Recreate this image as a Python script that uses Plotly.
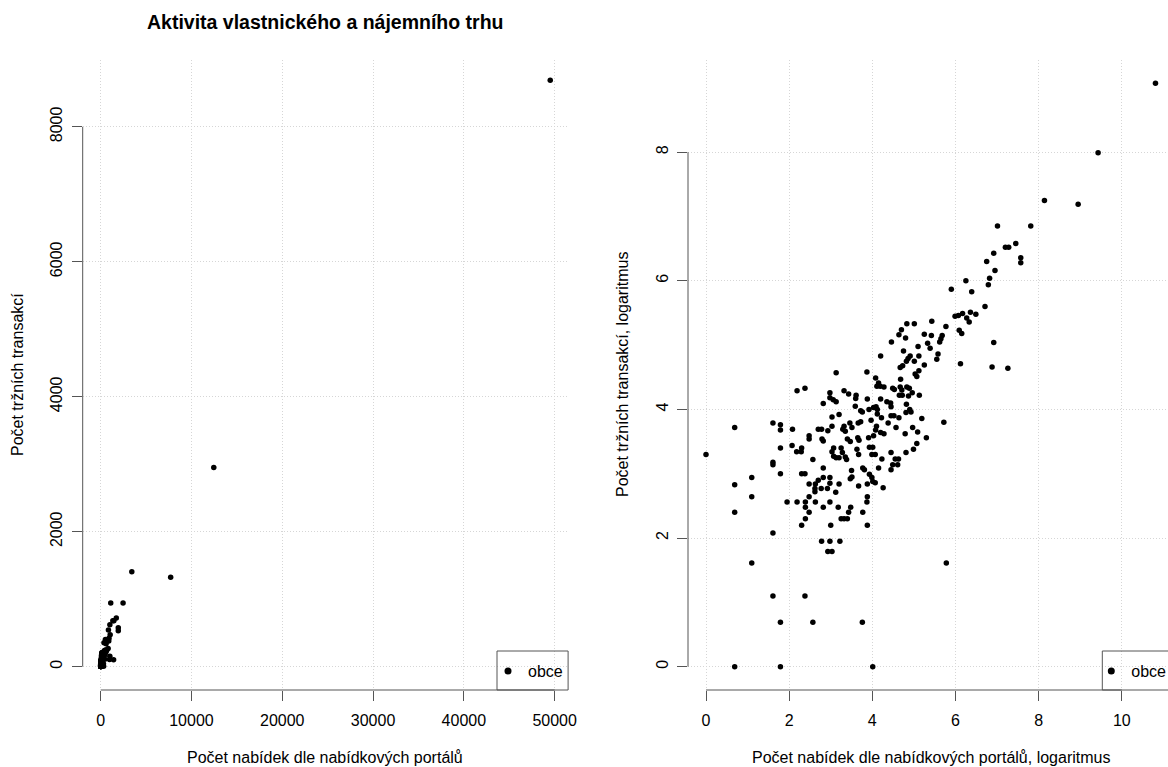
import numpy as np
import plotly.graph_objects as go

# ---- data (natural log of counts, right panel) ----
log_offers = [
    10.81, 9.43, 8.14, 8.95, 7.01, 7.81, 7.20, 7.28, 7.45, 6.92,
    7.57, 7.57, 6.75, 6.95, 6.82, 6.79, 6.25, 5.90, 6.39, 6.71,
    5.99, 6.07, 6.17, 6.36, 6.49, 6.27, 6.33, 6.09, 6.15, 5.77,
    5.43, 5.01, 4.83, 4.70, 4.64, 4.80, 4.46, 5.25, 5.42, 5.33,
    5.39, 5.68, 5.65, 5.62, 5.10, 4.75, 4.91, 4.86, 4.82, 5.12,
    5.01, 5.58, 5.55, 5.25, 4.67, 4.73, 4.20, 6.12, 6.92, 6.88,
    7.26, 5.12, 3.13, 3.87, 5.07, 5.03, 4.08, 4.68, 4.15, 4.11,
    4.19, 4.28, 4.49, 4.53, 4.67, 4.71, 4.83, 4.89, 2.19, 2.38,
    3.32, 3.43, 2.98, 3.61, 3.60, 3.88, 2.98, 3.06, 3.13, 2.82,
    4.65, 4.72, 4.87, 4.96, 5.13, 4.20, 4.35, 4.44, 4.45, 3.59,
    3.72, 3.92, 4.03, 4.09, 4.12, 4.82, 4.90, 4.93, 4.81, 4.45,
    4.52, 4.64, 4.22, 4.38, 4.57, 4.10, 4.08, 4.20, 4.28, 3.97,
    3.91, 4.03, 4.12, 3.76, 4.97, 5.09, 4.79, 5.30, 5.07, 4.99,
    4.81, 4.45, 4.55, 4.63, 4.49, 4.61, 4.23, 4.15, 4.45, 4.26,
    5.19, 5.72, 3.66, 3.72, 3.46, 3.51, 3.32, 3.35, 3.29, 3.03,
    2.93, 2.70, 2.78, 3.03, 3.20, 0.69, 1.61, 1.79, 1.79, 2.08,
    2.48, 2.48, 2.79, 2.82, 2.07, 2.30, 2.18, 2.29, 1.79, 0.00,
    1.61, 1.61, 2.57, 2.82, 3.40, 3.47, 3.65, 3.68, 3.63, 3.67,
    3.07, 3.03, 3.07, 3.13, 3.25, 3.20, 3.28, 3.35, 3.38, 3.93,
    4.01, 3.99, 4.07, 3.50, 3.77, 3.81, 3.93, 3.99, 4.01, 4.07,
    3.88, 3.47, 3.51, 1.79, 1.10, 0.69, 2.30, 2.38, 2.82, 2.98,
    2.48, 2.63, 2.70, 2.62, 2.62, 2.77, 2.92, 2.98, 3.12, 3.20,
    3.67, 1.10, 1.95, 2.19, 2.39, 2.39, 2.48, 2.39, 2.30, 2.48,
    2.63, 2.82, 2.98, 3.18, 3.48, 3.43, 3.25, 3.32, 3.40, 3.77,
    3.88, 3.87, 3.00, 3.88, 0.69, 1.61, 2.78, 2.98, 3.22, 2.93,
    3.03, 1.10, 5.78, 1.61, 2.38, 1.79, 2.57, 3.76, 0.69, 1.79,
    4.01,
]
log_transactions = [
    9.07, 7.99, 7.25, 7.19, 6.85, 6.85, 6.52, 6.52, 6.58, 6.43,
    6.36, 6.28, 6.30, 6.16, 6.04, 5.94, 6.00, 5.87, 5.83, 5.60,
    5.45, 5.46, 5.49, 5.51, 5.48, 5.42, 5.36, 5.23, 5.18, 5.29,
    5.37, 5.33, 5.33, 5.24, 5.16, 5.11, 5.05, 5.17, 5.15, 5.03,
    4.95, 5.15, 5.10, 5.05, 4.98, 4.91, 4.83, 4.79, 4.75, 4.83,
    4.75, 4.86, 4.78, 4.69, 4.65, 4.68, 4.83, 4.71, 5.04, 4.66,
    4.64, 4.60, 4.57, 4.58, 4.51, 4.55, 4.49, 4.47, 4.41, 4.36,
    4.36, 4.35, 4.33, 4.31, 4.35, 4.30, 4.35, 4.33, 4.29, 4.33,
    4.29, 4.24, 4.26, 4.22, 4.17, 4.16, 4.18, 4.15, 4.12, 4.09,
    4.22, 4.22, 4.21, 4.26, 4.22, 4.16, 4.12, 4.10, 4.04, 4.05,
    3.98, 4.00, 4.03, 4.04, 4.00, 4.08, 4.00, 3.96, 3.95, 3.90,
    3.90, 3.87, 3.87, 3.79, 3.72, 3.74, 3.68, 3.64, 3.62, 3.83,
    3.56, 3.59, 3.93, 3.96, 3.72, 3.65, 3.62, 3.56, 3.47, 3.38,
    3.33, 3.33, 3.23, 3.23, 3.14, 3.14, 3.23, 3.09, 3.06, 2.78,
    3.86, 3.80, 3.79, 3.81, 3.79, 3.72, 3.74, 3.66, 3.69, 3.74,
    3.67, 3.69, 3.69, 3.88, 3.92, 3.72, 3.79, 3.76, 3.68, 3.69,
    3.59, 3.54, 3.54, 3.51, 3.44, 3.40, 3.34, 3.34, 3.40, 3.30,
    3.18, 3.14, 3.22, 3.09, 3.54, 3.50, 3.56, 3.52, 3.38, 3.30,
    3.40, 3.34, 3.27, 3.25, 3.40, 3.25, 3.33, 3.26, 3.22, 3.41,
    3.41, 3.30, 3.30, 3.05, 3.09, 3.06, 2.99, 2.94, 2.88, 2.86,
    2.84, 2.92, 2.95, 3.00, 2.94, 2.83, 3.00, 3.00, 2.94, 2.94,
    2.84, 2.84, 2.90, 2.77, 2.72, 2.77, 2.77, 2.85, 2.71, 2.84,
    2.81, 2.64, 2.56, 2.56, 2.56, 2.48, 2.40, 2.30, 2.20, 2.64,
    2.56, 2.48, 2.56, 2.48, 2.48, 2.40, 2.30, 2.30, 2.30, 2.40,
    2.64, 2.56, 2.20, 2.20, 2.40, 2.08, 1.95, 1.95, 1.95, 1.79,
    1.79, 1.61, 1.61, 1.10, 1.10, 0.69, 0.69, 0.69, 0.00, 0.00,
    0.00,
]

# counts on the original scale (left panel)
offers = np.exp(np.array(log_offers))
transactions = np.exp(np.array(log_transactions))

left_xticks = [0, 10000, 20000, 30000, 40000, 50000]
left_yticks = [0, 2000, 4000, 6000, 8000]
right_xticks = [0, 2, 4, 6, 8, 10]
right_yticks = [0, 2, 4, 6, 8]

title_text = "Aktivita vlastnického a nájemního trhu"
left_xtitle = "Počet nabídek dle nabídkových portálů"
left_ytitle = "Počet tržních transakcí"
right_xtitle = "Počet nabídek dle nabídkových portálů, logaritmus"
right_ytitle = "Počet tržních transakcí, logaritmus"
legend_label = "obce"

# ---- layout geometry (pixels) ----
W, H = 1168, 767
FONT = "Liberation Sans, Arial, sans-serif"
AX = "#555555"
GRID = "#D6D6D6"


def fx(p):
    return p / W


def fy(p):
    return 1 - p / H


plot_top, plot_bottom = 60.0, 690.0
L_left, L_right = 82.7, 568.1
R_left, R_right = 688.0, 1173.4
R_x0, R_ppu = 706.0, 41.58

fig = go.Figure()
fig.add_trace(go.Scatter(
    x=offers, y=transactions, mode="markers", name=legend_label,
    marker=dict(color="black", size=5.5), xaxis="x", yaxis="y",
    showlegend=False, hoverinfo="x+y",
))
fig.add_trace(go.Scatter(
    x=log_offers, y=log_transactions, mode="markers", name=legend_label,
    marker=dict(color="black", size=5.5), xaxis="x2", yaxis="y2",
    showlegend=False, hoverinfo="x+y",
))
# legend entries (legend symbol is a bit larger than the plotted points)
fig.add_trace(go.Scatter(
    x=[None], y=[None], mode="markers", name=legend_label,
    marker=dict(color="black", size=7), xaxis="x", yaxis="y",
    legend="legend", showlegend=True,
))
fig.add_trace(go.Scatter(
    x=[None], y=[None], mode="markers", name=legend_label,
    marker=dict(color="black", size=7), xaxis="x2", yaxis="y2",
    legend="legend2", showlegend=True,
))

common_axis = dict(
    showline=False, zeroline=False, showgrid=True, gridcolor=GRID,
    griddash="1px,2px", gridwidth=1, ticks="outside", ticklen=10,
    tickwidth=1, tickcolor=AX, tickfont=dict(family=FONT, size=16, color="black"),
    fixedrange=True,
)

ydom = [fy(plot_bottom), fy(plot_top)]
legend_common = dict(yanchor="middle", xanchor="left", bgcolor="rgba(0,0,0,0)",
                     borderwidth=0, font=dict(family=FONT, size=16, color="black"))
fig.update_layout(
    width=W, height=H,
    margin=dict(l=0, r=0, t=0, b=0, autoexpand=False),
    paper_bgcolor="white", plot_bgcolor="white",
    font=dict(family=FONT, size=16, color="black"),
    xaxis=dict(domain=[fx(L_left), fx(L_right)], range=[-1980, 51480],
               tickvals=left_xticks, ticktext=[str(v) for v in left_xticks],
               ticklabelstandoff=6, anchor="y", **common_axis),
    yaxis=dict(domain=ydom, range=[-346, 8990],
               tickvals=left_yticks, ticktext=[str(v) for v in left_yticks],
               tickangle=-90, ticklabelstandoff=3, anchor="x", **common_axis),
    xaxis2=dict(domain=[fx(R_left), 1.0],
                range=[(R_left - R_x0) / R_ppu, (W - R_x0) / R_ppu],
                tickvals=right_xticks, ticktext=[str(v) for v in right_xticks],
                ticklabelstandoff=6, anchor="y2", **common_axis),
    yaxis2=dict(domain=ydom, range=[-0.363, 9.433],
                tickvals=right_yticks, ticktext=[str(v) for v in right_yticks],
                tickangle=-90, ticklabelstandoff=3, anchor="x2", **common_axis),
    legend=dict(x=fx(497 + 11 - 20), y=fy(671), **legend_common),
    legend2=dict(x=fx(1102.3 + 9 - 20), y=fy(671), **legend_common),
    showlegend=True,
)

# axis lines spanning first..last tick (R style)
shapes = [
    dict(type="line", xref="x", yref="paper", x0=left_xticks[0], x1=left_xticks[-1],
         y0=fy(plot_bottom), y1=fy(plot_bottom), line=dict(color=AX, width=1)),
    dict(type="line", xref="paper", yref="y", x0=fx(L_left), x1=fx(L_left),
         y0=left_yticks[0], y1=left_yticks[-1], line=dict(color=AX, width=1)),
    dict(type="line", xref="x2", yref="paper", x0=right_xticks[0], x1=right_xticks[-1],
         y0=fy(plot_bottom), y1=fy(plot_bottom), line=dict(color=AX, width=1)),
    dict(type="line", xref="paper", yref="y2", x0=fx(R_left), x1=fx(R_left),
         y0=right_yticks[0], y1=right_yticks[-1], line=dict(color=AX, width=1)),
    # legend boxes
    dict(type="rect", xref="paper", yref="paper", x0=fx(497), x1=fx(568.1),
         y0=fy(690), y1=fy(651), line=dict(color=AX, width=1), fillcolor="rgba(0,0,0,0)"),
    dict(type="rect", xref="paper", yref="paper", x0=fx(1102.3), x1=fx(1180),
         y0=fy(690), y1=fy(651), line=dict(color=AX, width=1), fillcolor="rgba(0,0,0,0)"),
]
fig.update_layout(shapes=shapes)

ymid = (plot_top + plot_bottom) / 2
annotations = [
    dict(text="<b>" + title_text + "</b>", x=fx((L_left + L_right) / 2), y=fy(22),
         xref="paper", yref="paper", showarrow=False, font=dict(size=19.5, family=FONT),
         xanchor="center", yanchor="middle"),
    dict(text=left_xtitle, x=fx((L_left + L_right) / 2), y=fy(757), xref="paper", yref="paper",
         showarrow=False, xanchor="center", yanchor="middle", font=dict(size=16, family=FONT)),
    dict(text=right_xtitle, x=fx((R_left + R_right) / 2), y=fy(757), xref="paper", yref="paper",
         showarrow=False, xanchor="center", yanchor="middle", font=dict(size=16, family=FONT)),
    dict(text=left_ytitle, x=fx(17), y=fy(ymid), xref="paper", yref="paper", textangle=-90,
         showarrow=False, xanchor="center", yanchor="middle", font=dict(size=16, family=FONT)),
    dict(text=right_ytitle, x=fx(622), y=fy(ymid), xref="paper", yref="paper", textangle=-90,
         showarrow=False, xanchor="center", yanchor="middle", font=dict(size=16, family=FONT)),
]
fig.update_layout(annotations=annotations)

fig.write_html(
    "out.html",
    config={"displayModeBar": False},
    post_script="document.body.style.margin='0px';document.body.style.overflow='hidden';",
)
